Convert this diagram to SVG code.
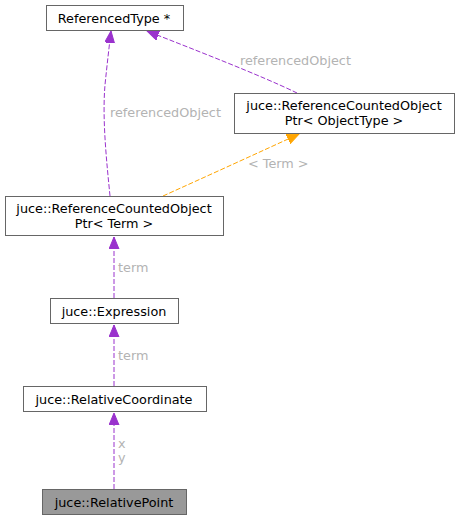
<svg xmlns="http://www.w3.org/2000/svg" width="459" height="520" viewBox="0 0 459 520">
<style>
.box{fill:#ffffff;stroke:#666666;stroke-width:1}
.cur{fill:#999999;stroke:#666666;stroke-width:1}
.t{font-family:"DejaVu Sans",sans-serif;font-size:12.8px;fill:#000000;text-anchor:middle}
.lbl{font-family:"DejaVu Sans",sans-serif;font-size:12.8px;fill:#b3b3b3}
.e{fill:none;stroke:#9a32cd;stroke-width:1;stroke-dasharray:5,2}
.o{fill:none;stroke:#ffa500;stroke-width:1;stroke-dasharray:5,2}
</style>
<defs>
<marker id="ap" markerWidth="14" markerHeight="12" refX="12" refY="5" orient="auto" markerUnits="userSpaceOnUse"><path d="M0,0 L12,5 L0,10 Z" fill="#9a32cd" stroke="#9a32cd"/></marker>
<marker id="ao" markerWidth="14" markerHeight="12" refX="12" refY="5" orient="auto" markerUnits="userSpaceOnUse"><path d="M0,0 L12,5 L0,10 Z" fill="#ffa500" stroke="#ffa500"/></marker>
</defs>
<g id="edges">
<path class="e" d="M110,196 C107,165 102,120 105,85 C107,65 109,48 111,31" marker-end="url(#ap)"/>
<text class="lbl" x="110" y="117">referencedObject</text>
<path class="e" d="M297,93 C260,75 195,50 147,31" marker-end="url(#ap)"/>
<text class="lbl" x="240" y="65">referencedObject</text>
<path class="o" d="M163,196 C205,177 260,152 299,134" marker-end="url(#ao)"/>
<text class="lbl" x="248" y="168">&lt; Term &gt;</text>
<path class="e" d="M114,298 L114,237" marker-end="url(#ap)"/>
<text class="lbl" x="118" y="272">term</text>
<path class="e" d="M114,386 L114,325" marker-end="url(#ap)"/>
<text class="lbl" x="118" y="360">term</text>
<path class="e" d="M114,489 L114,413" marker-end="url(#ap)"/>
<text class="lbl" x="118" y="448">x</text>
<text class="lbl" x="118" y="462">y</text>
</g>
<g id="referencedType">
<rect class="box" x="46.5" y="5.5" width="137" height="25"/>
<text class="t" x="114" y="22.5">ReferencedType *</text>
</g>
<g id="rcopObjectType">
<rect class="box" x="234.5" y="93.5" width="220" height="40"/>
<text class="t" x="344" y="109.5">juce::ReferenceCountedObject</text>
<text class="t" x="344" y="124.5">Ptr&lt; ObjectType &gt;</text>
</g>
<g id="rcopTerm">
<rect class="box" x="5.5" y="196.5" width="218" height="39"/>
<text class="t" x="114" y="212.5">juce::ReferenceCountedObject</text>
<text class="t" x="114" y="227.5">Ptr&lt; Term &gt;</text>
</g>
<g id="expression">
<rect class="box" x="50.5" y="298.5" width="128" height="25"/>
<text class="t" x="114" y="315.5">juce::Expression</text>
</g>
<g id="relativeCoordinate">
<rect class="box" x="23.5" y="386.5" width="183" height="25"/>
<text class="t" x="114" y="403.5">juce::RelativeCoordinate</text>
</g>
<g id="relativePoint">
<rect class="cur" x="42.5" y="489.5" width="144" height="25"/>
<text class="t" x="114" y="506.5">juce::RelativePoint</text>
</g>
</svg>
